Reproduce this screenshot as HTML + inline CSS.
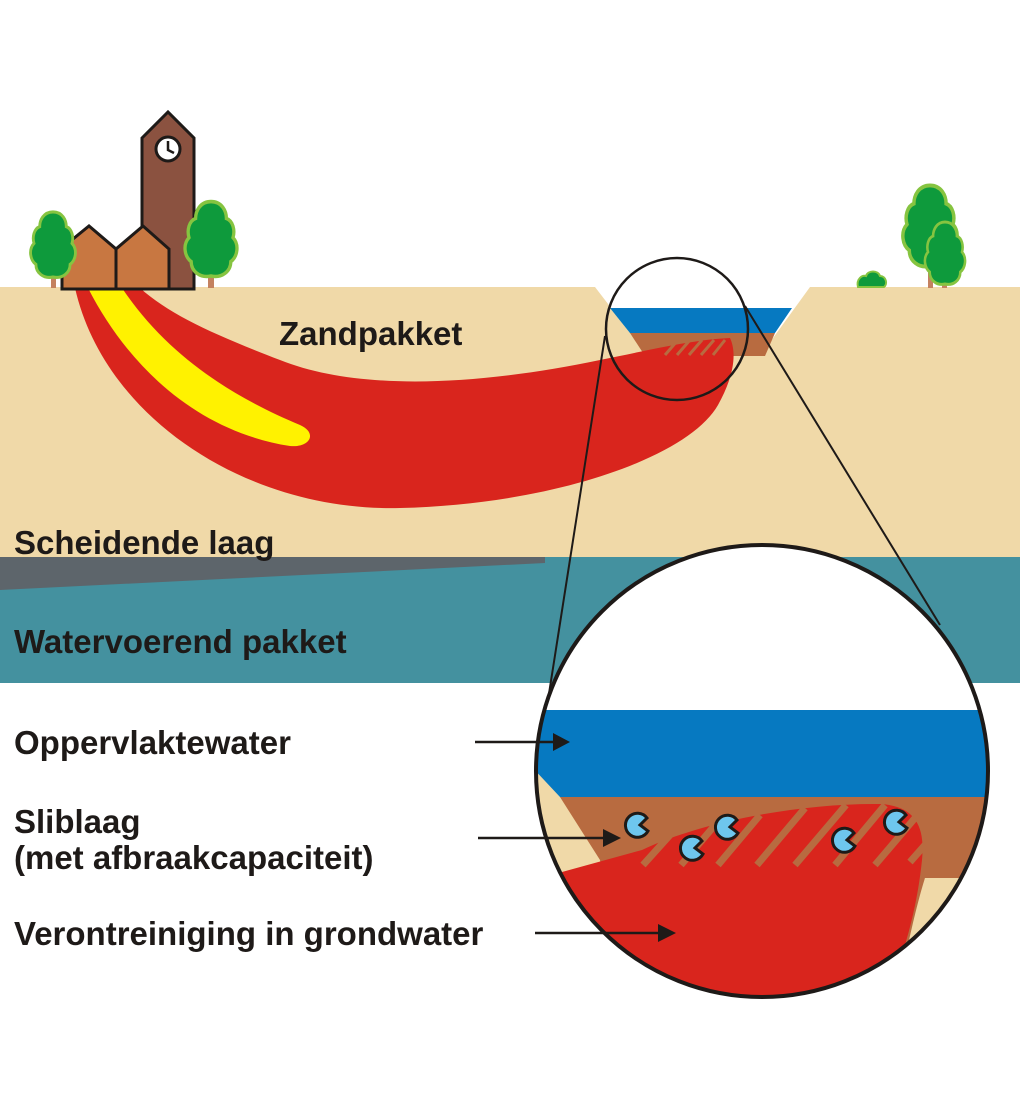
<!DOCTYPE html>
<html><head><meta charset="utf-8"><style>
html,body{margin:0;padding:0;background:#fff}
svg{display:block}
text{font-family:"Liberation Sans",sans-serif;font-weight:bold;fill:#1e1a18}
</style></head><body>
<svg width="1020" height="1112" viewBox="0 0 1020 1112">
<defs>
<clipPath id="big"><circle cx="762" cy="771" r="226"/></clipPath>
<g id="tree">
<path d="M0,-42 c10,0 14,8 14,14 c6,2 8,10 6,16 c6,6 4,16 -2,20 c0,8 -8,14 -18,12 c-10,2 -18,-4 -18,-12 c-6,-4 -8,-14 -2,-20 c-2,-6 0,-14 6,-16 c0,-6 4,-14 14,-14z" fill="#0e9a3c" stroke="#86c440" stroke-width="3"/>
</g>
<path id="pac" d="M9,-7 A12,12 0 1 0 10,6 L2,0Z"/>
</defs>
<path d="M0,287 L595,287 L645,352 L760,356 L810,287 L1020,287 L1020,560 L0,560Z" fill="#f0d9a8"/>
<path d="M610,308 L792,308 L775,333 L630,333Z" fill="#0679c1"/>
<path d="M630,333 L775,333 L765,356 L645,356Z" fill="#b86b40"/>
<rect x="0" y="557" width="1020" height="126" fill="#44919f"/>
<path d="M0,557 L545,557 L545,563 L0,590Z" fill="#5d656b"/>
<path d="M75,288 C105,420 250,512 400,508 C560,504 690,455 718,405 C732,380 738,355 730,338 C690,340 650,350 600,360 C480,385 360,392 280,360 C215,335 170,315 140,288Z" fill="#d9251d"/>
<g stroke="#b86b40" stroke-width="3">
<line x1="665" y1="355" x2="678" y2="340"/><line x1="677" y1="355" x2="690" y2="340"/><line x1="689" y1="355" x2="702" y2="340"/><line x1="701" y1="355" x2="714" y2="340"/><line x1="713" y1="355" x2="725" y2="340"/>
</g>
<path d="M88,288 L122,288 C170,360 240,400 300,425 C318,433 310,448 290,446 C200,432 130,370 88,288Z" fill="#fff200"/>
<path d="M142,138 L168,112 L194,138 L194,289 L142,289Z" fill="#8b5240" stroke="#1e1a18" stroke-width="3"/>
<circle cx="168" cy="149" r="12" fill="#fff" stroke="#1e1a18" stroke-width="3"/>
<path d="M168,141 L168,150 L174,153" stroke="#1e1a18" stroke-width="2.5" fill="none"/>
<path d="M62,289 L62,248 L89,226 L116,249 L116,289Z" fill="#c87741" stroke="#1e1a18" stroke-width="3"/>
<path d="M116,289 L116,249 L143,226 L169,249 L169,289Z" fill="#c87741" stroke="#1e1a18" stroke-width="3"/>
<rect x="51" y="262" width="5" height="26" fill="#c48260"/>
<use href="#tree" transform="translate(53,256) scale(0.95,1.05)"/>
<rect x="208" y="258" width="6" height="30" fill="#c48260"/>
<use href="#tree" transform="translate(211,252) scale(1.1,1.2)"/>
<rect x="928" y="262" width="5" height="26" fill="#c48260"/>
<use href="#tree" transform="translate(930,240) scale(1.15,1.3)"/>
<rect x="942" y="275" width="5" height="13" fill="#c48260"/>
<use href="#tree" transform="translate(945,264) scale(0.85,1)"/>
<path d="M858,287 c-2,-8 4,-12 8,-11 c2,-6 12,-6 14,0 c6,0 8,8 4,11z" fill="#0e9a3c" stroke="#86c440" stroke-width="2"/>
<circle cx="677" cy="329" r="71" fill="none" stroke="#1e1a18" stroke-width="2.5"/>
<line x1="605" y1="336" x2="548" y2="700" stroke="#1e1a18" stroke-width="2"/>
<line x1="745" y1="306" x2="940" y2="625" stroke="#1e1a18" stroke-width="2"/>
<g clip-path="url(#big)">
<rect x="530" y="540" width="470" height="470" fill="#fff"/>
<rect x="530" y="710" width="470" height="87" fill="#0679c1"/>
<path d="M530,765 L560,797 L1000,797 L1000,1010 L530,1010Z" fill="#f0d9a8"/>
<path d="M560,797 L1000,797 L1000,878 L925,878 L900,1010 L620,1010 L600,860Z" fill="#b86b40"/>
<path d="M562,872 L642,850 C700,822 800,803 880,804 C918,806 925,830 922,860 C918,900 908,940 895,975 L895,1010 L530,1010 L530,880Z" fill="#d9251d"/>
<path d="M925,878 L1000,878 L1000,1010 L895,1010 C908,940 918,900 925,878Z" fill="#f0d9a8"/>
<g stroke="#b86b40" stroke-width="7">
<line x1="643" y1="865" x2="670" y2="835"/><line x1="681" y1="865" x2="715" y2="825"/>
<line x1="718" y1="865" x2="760" y2="815"/><line x1="757" y1="865" x2="805" y2="808"/>
<line x1="795" y1="865" x2="846" y2="805"/><line x1="835" y1="865" x2="885" y2="805"/>
<line x1="875" y1="865" x2="915" y2="818"/><line x1="910" y1="862" x2="925" y2="845"/>
</g>
</g>
<circle cx="762" cy="771" r="226" fill="none" stroke="#1e1a18" stroke-width="4"/>
<g fill="#6ec6ee" stroke="#1e1a18" stroke-width="3">
<use href="#pac" transform="translate(638,825)"/>
<use href="#pac" transform="translate(693,848)"/>
<use href="#pac" transform="translate(728,827)"/>
<use href="#pac" transform="translate(845,840)"/>
<use href="#pac" transform="translate(897,822)"/>
</g>
<g stroke="#1e1a18" stroke-width="2.5" fill="#1e1a18">
<line x1="475" y1="742" x2="555" y2="742"/><path d="M553,733 L570,742 L553,751Z" stroke="none"/>
<line x1="478" y1="838" x2="605" y2="838"/><path d="M603,829 L621,838 L603,847Z" stroke="none"/>
<line x1="535" y1="933" x2="660" y2="933"/><path d="M658,924 L676,933 L658,942Z" stroke="none"/>
</g>
<text x="279" y="345" font-size="33">Zandpakket</text>
<text x="14" y="554" font-size="33">Scheidende laag</text>
<text x="14" y="653" font-size="33">Watervoerend pakket</text>
<text x="14" y="754" font-size="33">Oppervlaktewater</text>
<text x="14" y="833" font-size="33">Sliblaag</text>
<text x="14" y="869" font-size="33">(met afbraakcapaciteit)</text>
<text x="14" y="945" font-size="33">Verontreiniging in grondwater</text>
</svg>
</body></html>
